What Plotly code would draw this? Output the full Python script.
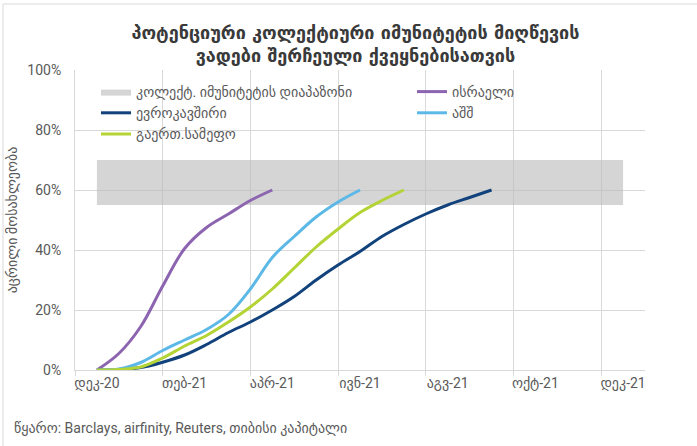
import plotly.graph_objects as go

# x positions are months counted from December 2020
month_pos = [0, 2, 4, 6, 8, 10, 12]
month_labels = ["დეკ-20", "თებ-21", "აპრ-21", "ივნ-21", "აგვ-21", "ოქტ-21", "დეკ-21"]
grid_pos = [-0.5, 1.5, 3.5, 5.5, 7.5, 9.5, 11.5]
y_ticks = [0, 20, 40, 60, 80, 100]

# herd-immunity band (share of vaccinated population, %)
band_x = [0, 12]
band_low = [55, 55]
band_high = [70, 70]

israel_x = [0, 0.5, 1, 1.5, 2, 2.5, 3, 3.5, 4]
israel_y = [0, 5.5, 14.5, 28, 40.5, 47.5, 52, 56.5, 60]

eu_x = [0, 0.5, 1, 1.5, 2, 2.5, 3, 3.5, 4, 4.5, 5, 5.5, 6, 6.5, 7, 7.5, 8, 8.5, 9]
eu_y = [0, 0.1, 0.8, 2.6, 5, 8.5, 12.5, 16, 20, 24.5, 30, 35, 39.5, 44.5, 48.5, 52, 55, 57.5, 60]

usa_x = [0, 0.5, 1, 1.5, 2, 2.5, 3, 3.5, 4, 4.5, 5, 5.5, 6]
usa_y = [0, 0.3, 2.5, 6.5, 10, 13.5, 18.5, 27, 37.5, 44.5, 51, 56, 60]

uk_x = [0, 0.5, 1, 1.5, 2, 2.5, 3, 3.5, 4, 4.5, 5, 5.5, 6, 6.5, 7]
uk_y = [0, 0.2, 1, 4, 8, 11.5, 16, 21, 27, 34, 41, 47, 52.5, 56.5, 60]

FONT = "Roboto, DejaVu Sans, sans-serif"
TXT = "#595959"
GRID = "#d9d9d9"

fig = go.Figure()

fig.add_trace(go.Scatter(x=band_x, y=band_low, mode="lines", line=dict(width=0),
                         showlegend=False, hoverinfo="skip"))
fig.add_trace(go.Scatter(x=band_x, y=band_high, mode="lines", line=dict(width=0),
                         fill="tonexty", fillcolor="rgba(185,185,185,0.6)",
                         name="კოლექტ. იმუნიტეტის დიაპაზონი", legend="legend"))

# (name, x, y, colour, legend column)
series = [
    ("ისრაელი", israel_x, israel_y, "#8c64b0", "legend2"),
    ("ევროკავშირი", eu_x, eu_y, "#12427c", "legend"),
    ("აშშ", usa_x, usa_y, "#5cb8e6", "legend2"),
    ("გაერთ.სამეფო", uk_x, uk_y, "#b4d335", "legend"),
]
for name, xs, ys, col, leg in series:
    fig.add_trace(go.Scatter(x=xs, y=ys, mode="lines", name=name, legend=leg,
                             line=dict(color=col, width=3, shape="spline", smoothing=1)))

L, R, T, B = 75, 52, 70, 76
W, H = 697, 446
pw, ph = W - L - R, H - T - B


def px_x(p):
    return (p - L) / pw


def px_y(p):
    return (H - B - p) / ph


legend_style = dict(orientation="v", xanchor="left", yanchor="top",
                    bgcolor="rgba(0,0,0,0)", font=dict(size=14, color=TXT),
                    traceorder="normal", tracegroupgap=0)

fig.update_layout(
    width=W, height=H, autosize=False,
    margin=dict(l=L, r=R, t=T, b=B),
    paper_bgcolor="white", plot_bgcolor="white",
    font=dict(family=FONT, color=TXT, size=13),
    title=dict(
        text="პოტენციური კოლექტიური იმუნიტეტის მიღწევის<br>ვადები შერჩეული ქვეყნებისათვის",
        x=0.51, xanchor="center", y=1 - 39 / H, yanchor="middle",
        font=dict(family="DejaVu Sans", size=18, color="#3a3a3a", weight="bold"),
    ),
    xaxis=dict(
        range=[-0.5, 12.5], tickmode="array", tickvals=month_pos, ticktext=month_labels,
        showgrid=False, ticks="", showline=True, linecolor=GRID, linewidth=1,
        zeroline=False, tickfont=dict(size=14, color=TXT),
        minor=dict(tickmode="array", tickvals=grid_pos, ticks="outside", ticklen=5,
                   tickcolor=GRID, showgrid=True, gridcolor=GRID, gridwidth=1),
    ),
    yaxis=dict(
        range=[0, 100], tickmode="array", tickvals=y_ticks,
        ticktext=[f"{v}%" for v in y_ticks],
        showgrid=True, gridcolor=GRID, gridwidth=1,
        showline=True, linecolor=GRID, zeroline=False, ticks="",
        ticklabelstandoff=10, tickfont=dict(size=14, color=TXT),
        title=dict(text="აცრილი მოსახლეობა", font=dict(size=14, color=TXT), standoff=6),
    ),
    legend=dict(x=px_x(96), y=px_y(76), **legend_style),
    legend2=dict(x=px_x(412), y=px_y(76), **legend_style),
    shapes=[dict(type="rect", xref="paper", yref="paper",
                 x0=px_x(3), x1=px_x(702), y0=px_y(452), y1=px_y(4),
                 line=dict(color=GRID, width=1), fillcolor="rgba(0,0,0,0)", layer="below")],
    annotations=[dict(text="წყარო: Barclays, airfinity, Reuters, თიბისი კაპიტალი",
                      xref="paper", yref="paper", x=px_x(12), y=px_y(428),
                      xanchor="left", yanchor="middle", showarrow=False,
                      font=dict(size=14, color=TXT))],
)

fig.write_html("out.html")
